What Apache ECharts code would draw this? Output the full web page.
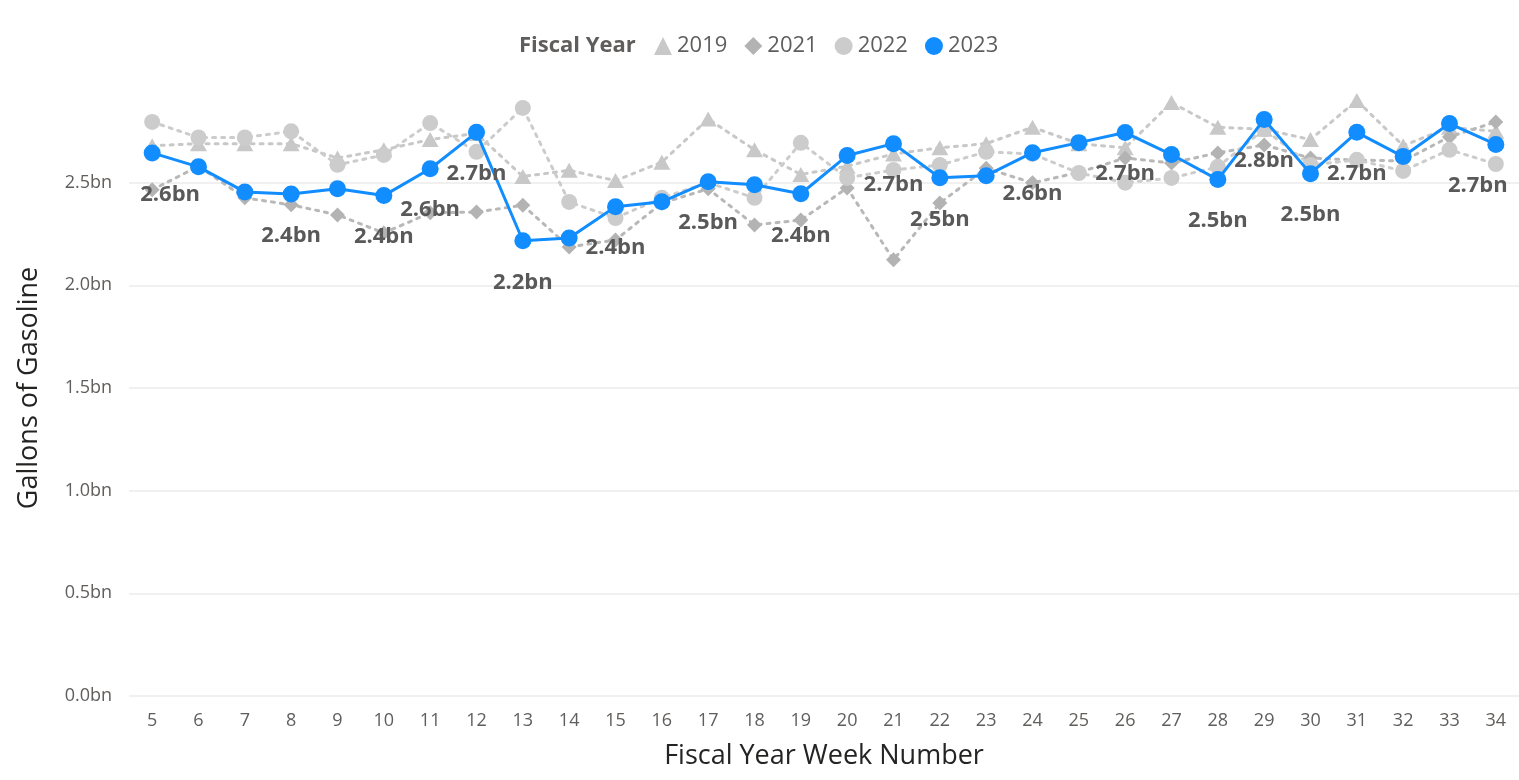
<!DOCTYPE html>
<html>
<head>
<meta charset="utf-8">
<script src="https://cdn.jsdelivr.net/npm/echarts@6/dist/echarts.min.js"></script>
<style>
html,body{margin:0;padding:0;background:#fff;}
#chart{width:1519px;height:780px;}
</style>
</head>
<body>
<div id="chart"></div>
<script>
const weeks = ['5','6','7','8','9','10','11','12','13','14','15','16','17','18','19','20','21','22','23','24','25','26','27','28','29','30','31','32','33','34'];
const fy2019 = [2.68,2.69,2.69,2.69,2.62,2.66,2.71,2.74,2.53,2.56,2.51,2.60,2.81,2.66,2.54,2.58,2.64,2.67,2.69,2.77,2.69,2.67,2.89,2.77,2.76,2.71,2.90,2.68,2.77,2.75];
const fy2021 = [2.465,2.58,2.426,2.392,2.343,2.255,2.353,2.357,2.39,2.187,2.221,2.40,2.47,2.294,2.318,2.474,2.124,2.401,2.57,2.499,2.55,2.62,2.596,2.645,2.684,2.62,2.61,2.606,2.723,2.796];
const fy2022 = [2.796,2.72,2.72,2.75,2.587,2.635,2.79,2.65,2.864,2.406,2.328,2.426,2.50,2.426,2.694,2.523,2.562,2.586,2.65,2.64,2.547,2.50,2.523,2.577,2.76,2.586,2.611,2.557,2.66,2.591];
const fy2023 = [2.645,2.577,2.455,2.445,2.47,2.437,2.568,2.745,2.217,2.231,2.383,2.407,2.505,2.490,2.446,2.632,2.690,2.524,2.534,2.646,2.695,2.744,2.637,2.515,2.808,2.544,2.745,2.627,2.788,2.686];
const labelledWeeks = ['5','8','10','11','12','13','15','17','19','21','22','24','26','28','29','30','31','34'];
const yTicks = [0, 0.5, 1.0, 1.5, 2.0, 2.5];

const chart = echarts.init(document.getElementById('chart'));
const axisFont = 'Open Sans';
const grayDot = (c) => ({ color: c, width: 3, type: [3, 6], cap: 'round' });

const blueData = fy2023.map((v, i) => {
  const item = { value: v };
  if (labelledWeeks.includes(weeks[i])) {
    item.label = { show: true };
    if (i === 0) item.label.offset = [18, 0];
    if (i === weeks.length - 1) item.label.offset = [-18, 0];
  }
  return item;
});

chart.setOption({
  animation: false,
  textStyle: { fontFamily: axisFont },
  graphic: [{
    type: 'text', left: 519, top: 35,
    style: { text: 'Fiscal Year', fontFamily: axisFont, fontWeight: 'bold', fontSize: 22, fill: '#605e5c' }
  }],
  legend: {
    left: 649, top: 30, itemGap: 17, itemWidth: 18, itemHeight: 18,
    textStyle: { fontSize: 22, color: '#605e5c', fontFamily: axisFont },
    data: [
      { name: '2019', icon: 'triangle', itemStyle: { color: '#c8c8c8' } },
      { name: '2021', icon: 'diamond', itemStyle: { color: '#b3b3b3' } },
      { name: '2022', icon: 'circle', itemStyle: { color: '#cccccc' } },
      { name: '2023', icon: 'circle', itemStyle: { color: '#118dff' } }
    ]
  },
  grid: { left: 129, right: -6, top: 80, bottom: 84 },
  xAxis: {
    type: 'category', data: weeks, boundaryGap: true,
    name: 'Fiscal Year Week Number', nameLocation: 'middle', nameGap: 47,
    nameTextStyle: { fontSize: 27, color: '#252423', fontFamily: axisFont },
    axisLine: { show: false }, axisTick: { show: false },
    axisLabel: { fontSize: 18, color: '#605e5c', margin: 16 }
  },
  yAxis: {
    type: 'value', min: 0, max: 3, interval: 0.5,
    name: 'Gallons of Gasoline', nameLocation: 'middle', nameGap: 86,
    nameTextStyle: { fontSize: 27, color: '#252423', fontFamily: axisFont },
    axisLine: { show: false }, axisTick: { show: false },
    axisLabel: {
      fontSize: 18, color: '#605e5c', margin: 17, showMaxLabel: false,
      formatter: (v) => yTicks.includes(v) ? v.toFixed(1) + 'bn' : ''
    },
    splitLine: { show: true, showMaxLine: false, lineStyle: { color: '#f0f0f0', width: 2 } }
  },
  series: [
    { name: '2019', type: 'line', data: fy2019, symbol: 'triangle', symbolSize: [17, 15],
      itemStyle: { color: '#c8c8c8' }, lineStyle: grayDot('#c8c8c8'), z: 2 },
    { name: '2021', type: 'line', data: fy2021, symbol: 'diamond', symbolSize: 15,
      itemStyle: { color: '#b3b3b3' }, lineStyle: grayDot('#b8b8b8'), z: 3 },
    { name: '2022', type: 'line', data: fy2022, symbol: 'circle', symbolSize: 16,
      itemStyle: { color: '#cccccc' }, lineStyle: grayDot('#cccccc'), z: 4 },
    { name: '2023', type: 'line', data: blueData, symbol: 'circle', symbolSize: 17,
      itemStyle: { color: '#118dff' }, lineStyle: { color: '#118dff', width: 3 }, z: 10,
      label: {
        show: false, position: 'bottom', distance: 22,
        fontSize: 22, fontWeight: 'bold', color: '#595959', fontFamily: axisFont,
        formatter: (p) => p.value.toFixed(1) + 'bn'
      }
    }
  ]
});
</script>
</body>
</html>
